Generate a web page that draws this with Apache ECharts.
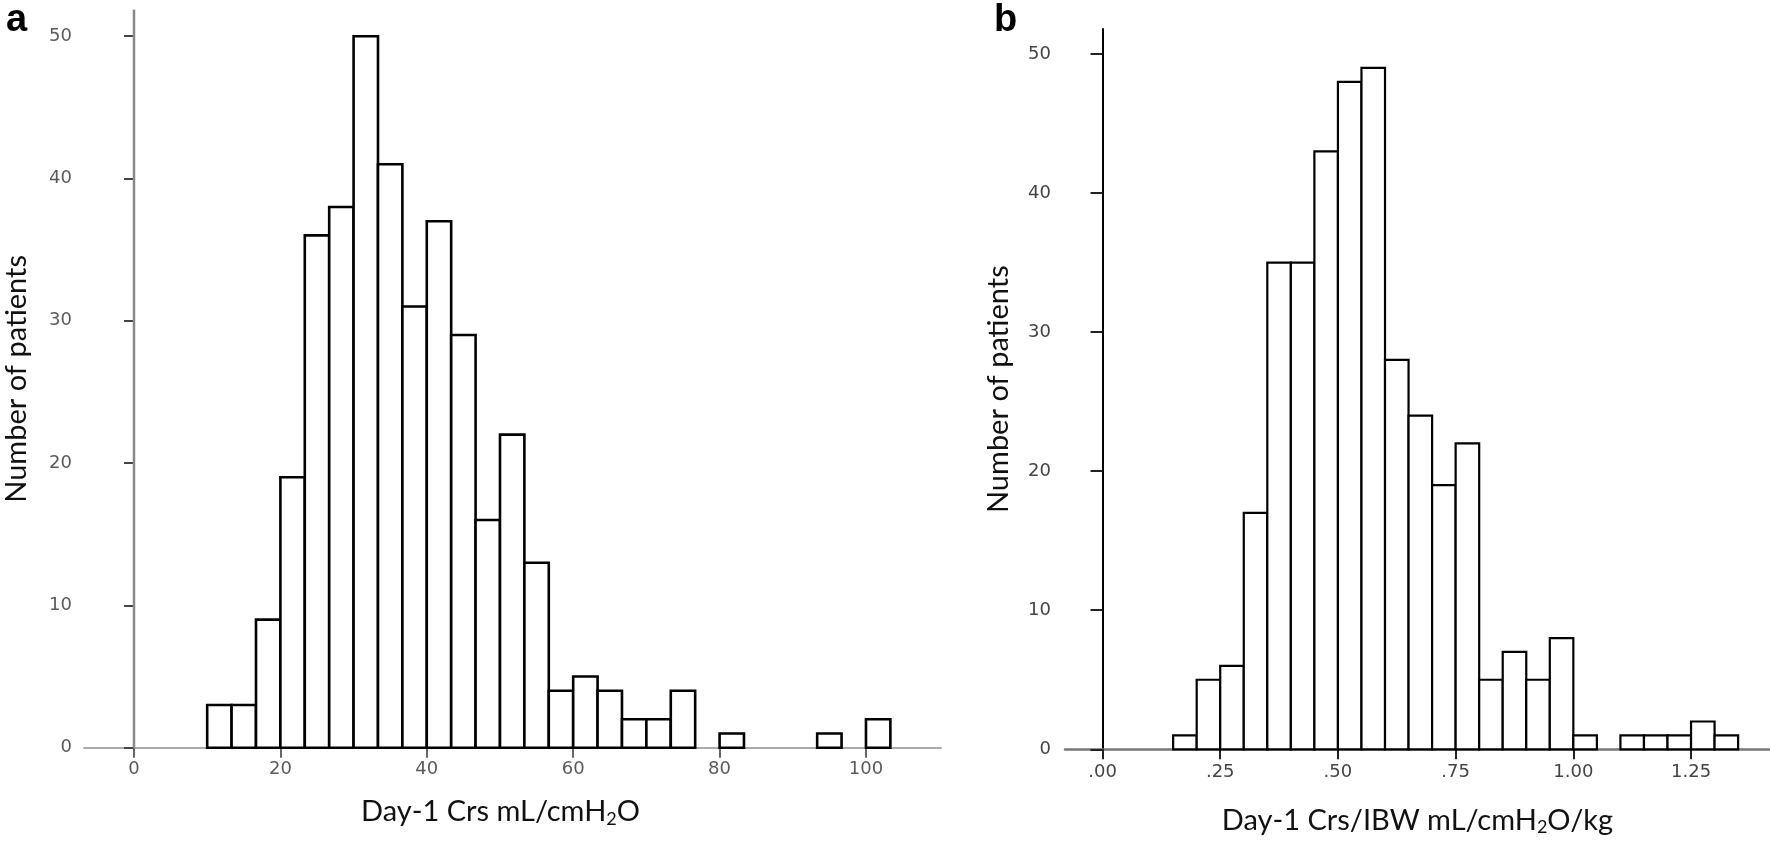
<!DOCTYPE html>
<html><head><meta charset="utf-8">
<script src="https://cdn.jsdelivr.net/npm/echarts@6/dist/echarts.min.js"></script>
<style>html,body{margin:0;padding:0;background:#fff}#c{width:1770px;height:842px}</style>
</head><body><div id="c"></div>
<script>
// ---------- Panel a: Day-1 Crs ----------
const binStartsA = [10, 13.333, 16.667, 20, 23.333, 26.667, 30, 33.333, 36.667, 40, 43.333, 46.667, 50, 53.333, 56.667, 60, 63.333, 66.667, 70, 73.333, 76.667, 80, 83.333, 86.667, 90, 93.333, 96.667, 100];
const countsA    = [3, 3, 9, 19, 36, 38, 50, 41, 31, 37, 29, 16, 22, 13, 4, 5, 4, 2, 2, 4, 0, 1, 0, 0, 0, 1, 0, 2];
const binWidthA  = 3.333;
const xTicksA    = [0, 20, 40, 60, 80, 100];
// ---------- Panel b: Day-1 Crs/IBW ----------
const binStartsB = [0.15, 0.20, 0.25, 0.30, 0.35, 0.40, 0.45, 0.50, 0.55, 0.60, 0.65, 0.70, 0.75, 0.80, 0.85, 0.90, 0.95, 1.00, 1.05, 1.10, 1.15, 1.20, 1.25, 1.30];
const countsB    = [1, 5, 6, 17, 35, 35, 43, 48, 49, 28, 24, 19, 22, 5, 7, 5, 8, 1, 0, 1, 1, 1, 2, 1];
const binWidthB  = 0.05;
const xTicksB    = [0, 0.25, 0.5, 0.75, 1.0, 1.25];
const xTickLabelsB = ['.00', '.25', '.50', '.75', '1.00', '1.25'];
const yTicks     = [0, 10, 20, 30, 40, 50];

const titleA_x = 'Day-1 Crs mL/cmH{s|2}O';
const titleB_x = 'Day-1 Crs/IBW mL/cmH{s|2}O/kg';
const titleY = 'Number of patients';

function toHist(starts, counts, w) {
  const out = [];
  for (let i = 0; i < starts.length; i++) {
    if (counts[i] > 0) out.push([starts[i], starts[i] + w, counts[i]]);
  }
  return out;
}
function histRenderer(lw) {
  return function (params, api) {
    const p0 = api.coord([api.value(0), api.value(2)]);
    const p1 = api.coord([api.value(1), 0]);
    return {
      type: 'rect',
      shape: { x: p0[0], y: p0[1], width: p1[0] - p0[0], height: p1[1] - p0[1] },
      style: { fill: '#fff', stroke: '#000', lineWidth: lw }
    };
  };
}

const tickFontA = { fontFamily: 'DejaVu Sans, sans-serif', fontSize: 18, color: '#5a5a5a' };
const tickFontB = { fontFamily: 'DejaVu Sans, sans-serif', fontSize: 18, color: '#444' };
const titleFont = { fontFamily: 'Lato, Open Sans, sans-serif', fontSize: 29, color: '#111',
  rich: { s: { fontFamily: 'Lato, Open Sans, sans-serif', fontSize: 18, color: '#111', padding: [14, 0, 0, 0] } } };
const yMaxA = 51.84, yMaxB = 51.8;

const chart = echarts.init(document.getElementById('c'), null, { renderer: 'canvas' });
chart.setOption({
  animation: false,
  backgroundColor: '#fff',
  graphic: [
    { type: 'text', left: 6, top: 2, style: { text: 'a', font: 'bold 38px Liberation Sans, Arial, sans-serif', fill: '#000' } },
    { type: 'text', left: 994, top: 2, style: { text: 'b', font: 'bold 38px Liberation Sans, Arial, sans-serif', fill: '#000' } }
  ],
  grid: [
    { left: 84, top: 10, width: 857, height: 737.7 },
    { left: 1065, top: 29, width: 705, height: 720.3 }
  ],
  xAxis: [
    { type: 'value', gridIndex: 0, min: -6.83, max: 110.25,
      name: titleA_x, nameLocation: 'middle', nameGap: 48,
      nameTextStyle: Object.assign({}, titleFont, { padding: [0, 24, 0, 0] }),
      axisLine: { lineStyle: { color: '#aaa', width: 2 } },
      axisTick: { show: true, customValues: xTicksA, length: 10, lineStyle: { color: '#666', width: 2 } },
      axisLabel: Object.assign({ customValues: xTicksA, margin: 13 }, tickFontA),
      splitLine: { show: false } },
    { type: 'value', gridIndex: 1, min: -0.0797, max: 1.4177,
      name: titleB_x, nameLocation: 'middle', nameGap: 55,
      nameTextStyle: Object.assign({}, titleFont, { padding: [0, 0, 0, 0] }),
      axisLine: { lineStyle: { color: '#777', width: 2.5 } },
      axisTick: { show: true, customValues: xTicksB, length: 10, lineStyle: { color: '#222', width: 2 } },
      axisLabel: Object.assign({ customValues: xTicksB, margin: 14,
        formatter: function (v) { const i = xTicksB.findIndex(t => Math.abs(t - v) < 1e-6); return i >= 0 ? xTickLabelsB[i] : ''; } }, tickFontB),
      splitLine: { show: false } }
  ],
  yAxis: [
    { type: 'value', gridIndex: 0, min: 0, max: yMaxA,
      name: titleY, nameLocation: 'middle', nameGap: 53,
      nameTextStyle: { fontFamily: 'Lato, Open Sans, sans-serif', fontSize: 29, color: '#111' },
      axisLine: { show: true, lineStyle: { color: '#bbb', width: 2 } },
      axisTick: { show: true, customValues: yTicks, length: 10, lineStyle: { color: '#444', width: 2 } },
      axisLabel: Object.assign({ customValues: yTicks, margin: 12 }, tickFontA),
      splitLine: { show: false } },
    { type: 'value', gridIndex: 1, min: 0, max: yMaxB,
      name: titleY, nameLocation: 'middle', nameGap: 52,
      nameTextStyle: { fontFamily: 'Lato, Open Sans, sans-serif', fontSize: 29, color: '#111' },
      axisLine: { show: true, lineStyle: { color: '#000', width: 2 } },
      axisTick: { show: true, customValues: yTicks, length: 12, lineStyle: { color: '#222', width: 2 } },
      axisLabel: Object.assign({ customValues: yTicks, margin: 14 }, tickFontB),
      splitLine: { show: false } }
  ],
  series: [
    { type: 'line', xAxisIndex: 0, yAxisIndex: 0, data: [[0, 0], [0, yMaxA]], symbol: 'none',
      lineStyle: { color: '#888', width: 2.5 }, z: 1, silent: true },
    { type: 'custom', xAxisIndex: 0, yAxisIndex: 0, renderItem: histRenderer(2.6),
      data: toHist(binStartsA, countsA, binWidthA), z: 3 },
    { type: 'custom', xAxisIndex: 1, yAxisIndex: 1, renderItem: histRenderer(2.2),
      data: toHist(binStartsB, countsB, binWidthB), z: 3 }
  ]
});
</script></body></html>
